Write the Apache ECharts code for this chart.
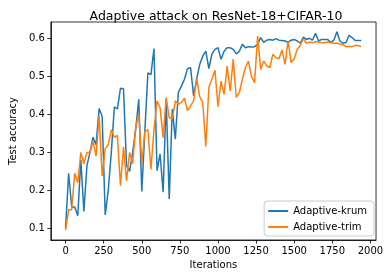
<!DOCTYPE html>
<html>
<head>
<meta charset="utf-8">
<script src="https://cdn.jsdelivr.net/npm/echarts@6/dist/echarts.min.js"></script>
<style>
html,body{margin:0;padding:0;background:#fff;}
#chart{width:386px;height:278px;}
</style>
</head>
<body>
<div id="chart"></div>
<script>
var iterations = [0,20,40,60,80,100,120,140,160,180,200,220,240,260,280,300,320,340,360,380,
400,420,440,460,480,500,520,540,560,580,600,620,640,660,680,700,720,740,760,780,
800,820,840,860,880,900,920,940,960,980,1000,1020,1040,1060,1080,1100,1120,1140,1160,1180,
1200,1220,1240,1260,1280,1300,1320,1340,1360,1380,1400,1420,1440,1460,1480,1500,1520,1540,1560,1580,
1600,1620,1640,1660,1680,1700,1720,1740,1760,1780,1800,1820,1840,1860,1880,1900,1920,1940];

var krum = [0.10,0.245,0.156,0.156,0.133,0.28,0.144,0.265,0.30,0.34,0.32,0.416,0.395,0.135,0.20,0.30,0.42,0.415,0.469,0.468,
0.265,0.25,0.30,0.36,0.44,0.197,0.355,0.51,0.505,0.574,
0.252,0.296,0.195,0.44,0.177,0.414,0.335,0.458,0.475,0.493,0.521,0.524,0.449,0.493,0.532,0.554,0.567,
0.521,0.559,0.572,0.576,0.546,0.567,0.576,0.576,0.572,0.56,0.567,0.585,0.576,0.579,0.578,0.579,0.585,0.603,0.59,0.596,0.598,0.596,
0.600,0.596,0.595,0.594,0.590,0.596,0.598,0.594,0.588,0.604,0.598,0.601,0.596,0.614,0.594,0.598,0.598,0.598,0.590,0.596,
0.618,0.594,0.588,0.590,0.609,0.603,0.595,0.595,0.595];

var trim = [0.095,0.149,0.149,0.245,0.22,0.30,0.27,0.30,0.30,0.33,0.29,0.396,0.238,0.31,0.32,0.36,0.34,0.345,0.212,0.315,
0.225,0.30,0.27,0.368,0.40,0.27,0.355,0.36,0.255,0.36,
0.436,0.418,0.339,0.445,0.392,0.388,0.436,0.427,0.432,0.443,0.41,0.423,0.436,0.495,0.447,0.432,0.316,0.471,0.493,0.517,
0.421,0.488,0.453,0.528,0.462,0.546,0.445,0.458,0.493,0.524,0.541,0.50,0.484,0.607,0.519,0.541,0.528,0.524,0.559,
0.55,0.547,0.57,0.532,0.594,0.537,0.547,0.572,0.582,0.60,0.588,0.591,0.589,0.592,0.591,0.589,0.589,0.591,0.589,0.588,
0.588,0.586,0.584,0.579,0.58,0.579,0.582,0.582,0.579];

var xTicks = [0,250,500,750,1000,1250,1500,1750,2000];
var yTicks = [0.1,0.2,0.3,0.4,0.5,0.6];
var seriesNames = ['Adaptive-krum','Adaptive-trim'];
var colors = ['#1f77b4','#ff7f0e'];

function pairs(xs, ys){ return xs.map(function(x,i){ return [x, ys[i]]; }); }

var font = 'DejaVu Sans';
var chart = echarts.init(document.getElementById('chart'), null, {renderer:'canvas'});
chart.setOption({
  animation:false,
  backgroundColor:'#fff',
  title:{text:'Adaptive attack on ResNet-18+CIFAR-10', left:211, top:5, textAlign:'center',
    textStyle:{fontFamily:font, fontSize:12.5, fontWeight:'normal', color:'#000'}},
  grid:{left:44, right:8, top:22, bottom:38, show:true, borderColor:'#000', borderWidth:0.8, backgroundColor:'transparent'},
  xAxis:{type:'value', min:-97, max:2037, name:'Iterations', nameLocation:'middle', nameGap:20,
    nameTextStyle:{fontFamily:font, fontSize:10, color:'#000'},
    axisLine:{show:true, onZero:false, lineStyle:{color:'#000', width:0.8}},
    axisTick:{show:true, inside:false, length:3.5, customValues:xTicks, lineStyle:{color:'#000', width:0.8}},
    axisLabel:{customValues:xTicks, fontFamily:font, fontSize:10, color:'#000', margin:6,
      formatter:function(v){ return String(v); }},
    splitLine:{show:false}},
  yAxis:{type:'value', min:0.069, max:0.644, name:'Test accuracy', nameLocation:'middle', nameGap:30,
    nameTextStyle:{fontFamily:font, fontSize:10, color:'#000'},
    axisLine:{show:true, onZero:false, lineStyle:{color:'#000', width:0.8}},
    axisTick:{show:true, inside:false, length:3.5, customValues:yTicks, lineStyle:{color:'#000', width:0.8}},
    axisLabel:{customValues:yTicks, fontFamily:font, fontSize:10, color:'#000', margin:6,
      formatter:function(v){ return v.toFixed(1); }},
    splitLine:{show:false}},
  legend:{orient:'vertical', right:12, bottom:42, icon:'rect', itemWidth:20, itemHeight:2, itemGap:6,
    padding:[5,7,4,4], backgroundColor:'#fff', borderColor:'#ccc', borderWidth:1, borderRadius:3,
    textStyle:{fontFamily:font, fontSize:10, color:'#000'}, data:seriesNames},
  series:[
    {name:seriesNames[0], type:'line', data:pairs(iterations, krum), showSymbol:false, symbol:'none',
      lineStyle:{color:colors[0], width:1.5}, itemStyle:{color:colors[0]}},
    {name:seriesNames[1], type:'line', data:pairs(iterations, trim), showSymbol:false, symbol:'none',
      lineStyle:{color:colors[1], width:1.5}, itemStyle:{color:colors[1]}}
  ]
});
</script>
</body>
</html>
